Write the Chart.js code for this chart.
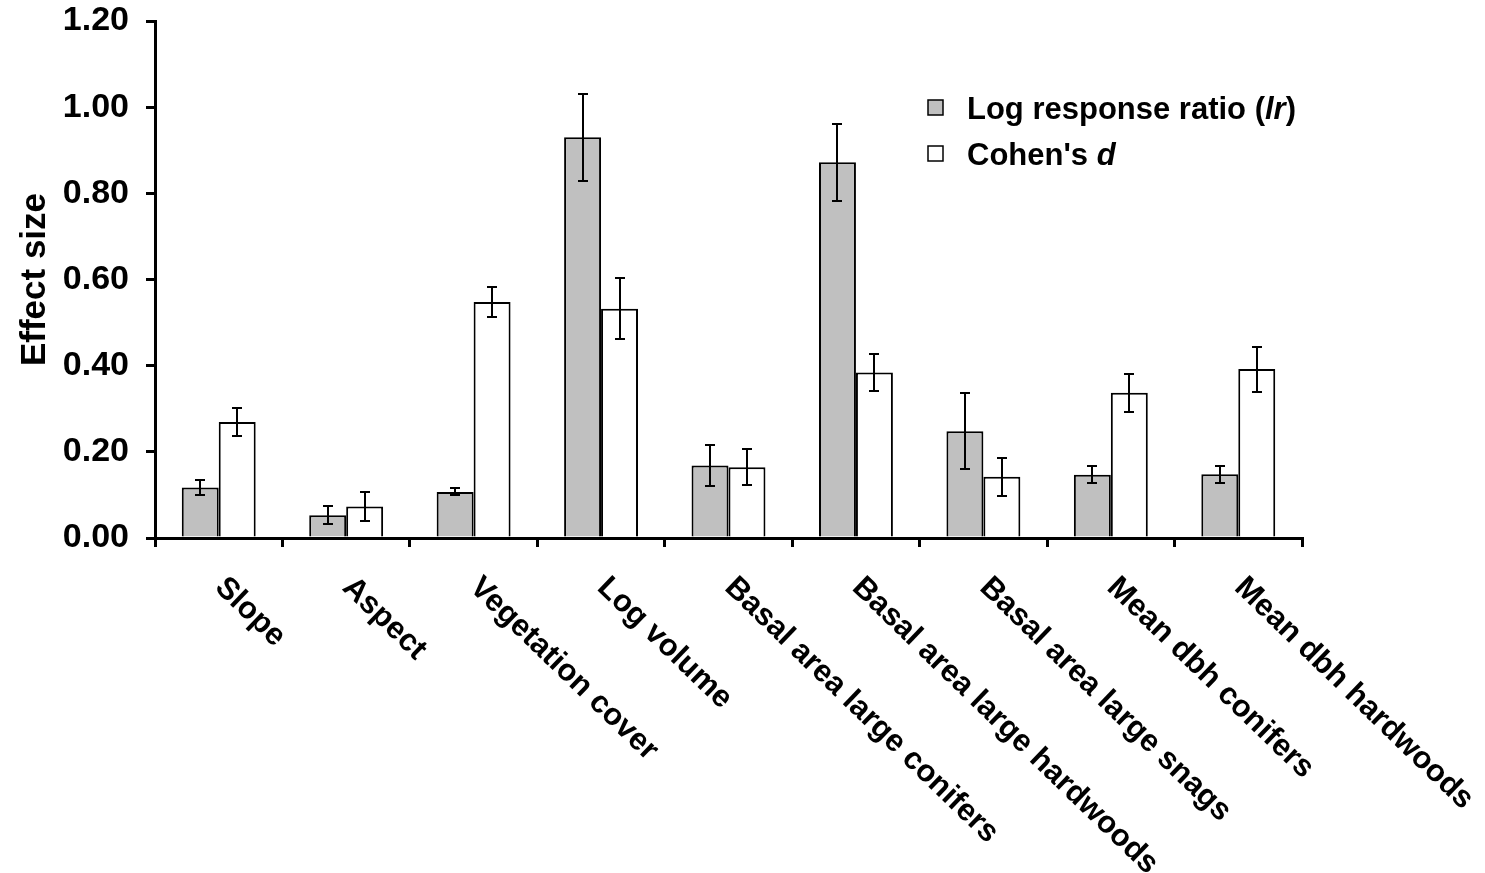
<!DOCTYPE html>
<html>
<head>
<meta charset="utf-8">
<title>Effect size</title>
<script src="https://cdn.jsdelivr.net/npm/chart.js@4.4.1/dist/chart.umd.min.js"></script>
<style>
  html, body { margin: 0; padding: 0; background: #ffffff; }
  #wrap { width: 1485px; height: 873px; position: relative; }
</style>
</head>
<body>
<div id="wrap"><canvas id="chart"></canvas></div>
<script>
// Habitat variables
const categories = [
  'Slope', 'Aspect', 'Vegetation cover', 'Log volume',
  'Basal area large conifers', 'Basal area large hardwoods',
  'Basal area large snags', 'Mean dbh conifers', 'Mean dbh hardwoods'
];
// Log response ratio (lr) and its error
const lrValues = [0.117, 0.053, 0.107, 0.930, 0.168, 0.872, 0.248, 0.147, 0.148];
const lrErrors = [0.017, 0.021, 0.008, 0.101, 0.048, 0.089, 0.088, 0.019, 0.020];
// Cohen's d and its error
const dValues = [0.269, 0.073, 0.548, 0.532, 0.164, 0.384, 0.142, 0.337, 0.392];
const dErrors = [0.033, 0.033, 0.034, 0.071, 0.042, 0.042, 0.044, 0.044, 0.052];
// Y axis ticks
const yTicks = [0, 0.2, 0.4, 0.6, 0.8, 1.0, 1.2];

const FONT = '"Liberation Sans", Arial, Helvetica, sans-serif';

// Vertical error bars with end caps
const errorBars = {
  id: 'errorBars',
  afterDatasetsDraw(chart) {
    const ctx = chart.ctx;
    const y = chart.scales.y;
    ctx.save();
    ctx.strokeStyle = '#000';
    ctx.lineWidth = 2;
    chart.data.datasets.forEach((ds, i) => {
      const meta = chart.getDatasetMeta(i);
      meta.data.forEach((bar, j) => {
        const v = ds.data[j], e = ds.errors[j];
        const yHi = Math.round(y.getPixelForValue(v + e));
        const yLo = Math.round(y.getPixelForValue(v - e));
        const x = Math.round(bar.x);
        ctx.beginPath();
        ctx.moveTo(x, yHi); ctx.lineTo(x, yLo);
        ctx.moveTo(x - 5, yHi); ctx.lineTo(x + 5, yHi);
        ctx.moveTo(x - 5, yLo); ctx.lineTo(x + 5, yLo);
        ctx.stroke();
      });
    });
    ctx.restore();
  }
};

// Rotated category names under the x axis
const categoryLabels = {
  id: 'categoryLabels',
  afterDraw(chart) {
    const ctx = chart.ctx;
    const x = chart.scales.x;
    const base = chart.chartArea.bottom;
    ctx.save();
    ctx.fillStyle = '#000';
    ctx.font = 'bold 31px ' + FONT;
    ctx.textAlign = 'left';
    ctx.textBaseline = 'alphabetic';
    categories.forEach((name, i) => {
      const cx = x.getPixelForValue(i);
      ctx.save();
      ctx.translate(cx - 5, base + 51);
      ctx.rotate(44 * Math.PI / 180);
      ctx.fillText(name, 0, 0);
      ctx.restore();
    });
    ctx.restore();
  }
};

// Legend with an italic symbol in each entry
const legendBox = {
  id: 'legendBox',
  afterDraw(chart) {
    const ctx = chart.ctx;
    const entries = [
      { parts: [['Log response ratio (', false], ['lr', true], [')', false]], ds: 0, y: 108 },
      { parts: [['Cohen\'s ', false], ['d', true]], ds: 1, y: 154 }
    ];
    ctx.save();
    ctx.textBaseline = 'middle';
    ctx.textAlign = 'left';
    entries.forEach(en => {
      const ds = chart.data.datasets[en.ds];
      ctx.fillStyle = ds.backgroundColor;
      ctx.fillRect(928, en.y - 8, 15, 15);
      ctx.strokeStyle = '#000';
      ctx.lineWidth = 1.5;
      ctx.strokeRect(928, en.y - 8, 15, 15);
      let tx = 967;
      ctx.fillStyle = '#000';
      en.parts.forEach(([txt, italic]) => {
        ctx.font = (italic ? 'italic ' : '') + 'bold 31px ' + FONT;
        ctx.fillText(txt, tx, en.y + 2);
        tx += ctx.measureText(txt).width;
      });
    });
    ctx.restore();
  }
};

new Chart(document.getElementById('chart'), {
  type: 'bar',
  data: {
    labels: categories,
    datasets: [
      {
        label: 'Log response ratio (lr)',
        data: lrValues,
        errors: lrErrors,
        backgroundColor: '#c0c0c0',
        borderColor: '#000',
        borderWidth: 2,
        categoryPercentage: 0.58,
        barPercentage: 1.0
      },
      {
        label: "Cohen's d",
        data: dValues,
        errors: dErrors,
        backgroundColor: '#ffffff',
        borderColor: '#000',
        borderWidth: 2,
        categoryPercentage: 0.58,
        barPercentage: 1.0
      }
    ]
  },
  options: {
    responsive: true,
    maintainAspectRatio: false,
    animation: false,
    layout: { padding: { top: 21, right: 183, bottom: 0, left: 0 } },
    plugins: {
      legend: { display: false },
      tooltip: { enabled: false }
    },
    scales: {
      x: {
        grid: {
          display: true,
          drawOnChartArea: false,
          drawTicks: true,
          tickLength: 9,
          lineWidth: 3,
          color: '#000',
          offset: true
        },
        border: { display: true, color: '#000', width: 3 },
        ticks: { display: false },
        afterFit(scale) {
          scale.height = 335;
          scale.paddingLeft = 0;
          scale.paddingRight = 0;
        }
      },
      y: {
        min: 0,
        max: 1.2,
        afterBuildTicks(scale) { scale.ticks = yTicks.map(v => ({ value: v })); },
        ticks: {
          color: '#000',
          font: { family: FONT, size: 34, weight: 'bold' },
          padding: 17,
          callback: v => Number(v).toFixed(2)
        },
        grid: {
          display: true,
          drawOnChartArea: false,
          drawTicks: true,
          tickLength: 9,
          lineWidth: 3,
          color: '#000'
        },
        border: { display: true, color: '#000', width: 3 },
        title: {
          display: true,
          text: 'Effect size',
          color: '#000',
          font: { family: FONT, size: 35, weight: 'bold' },
          padding: { top: 14, bottom: 0 }
        },
        afterFit(scale) {
          scale.width = 155;
          scale.paddingTop = 0;
          scale.paddingBottom = 0;
        }
      }
    }
  },
  plugins: [errorBars, categoryLabels, legendBox]
});
</script>
</body>
</html>
